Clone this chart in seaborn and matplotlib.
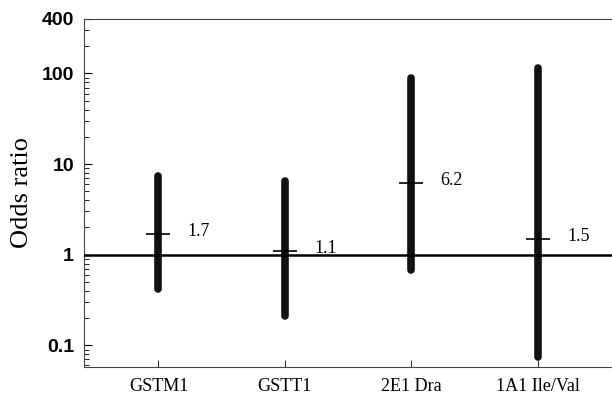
import numpy as np
import pandas as pd
import matplotlib
matplotlib.use("Agg")
import matplotlib.pyplot as plt
import matplotlib.ticker as mticker
import seaborn as sns

# dados
genes = ['GSTM1', 'GSTT1', '2E1 Dra', '1A1 Ile/Val']
odds = [1.7, 1.1, 6.2, 1.5]
ci_low = [0.42, 0.21, 0.68, 0.075]
ci_high = [7.3, 6.5, 90, 115]
labels_or = ['1.7', '1.1', '6.2', '1.5']

pos = np.arange(1, len(genes) + 1)

df_ci = pd.DataFrame({
    'gene': genes * 2,
    'x': list(pos) * 2,
    'or': ci_low + ci_high,
})
df_pt = pd.DataFrame({'gene': genes, 'x': pos, 'or': odds})

sns.set_style('white')
plt.rcParams['text.color'] = 'black'
plt.rcParams['xtick.color'] = 'black'
plt.rcParams['ytick.color'] = 'black'
plt.rcParams['axes.labelcolor'] = 'black'

fig = plt.figure(figsize=(6.12, 3.94), dpi=100)
ax = fig.add_axes([0.137, 0.069, 0.87, 0.883])

# intervalos de confianca (barras grossas)
sns.lineplot(data=df_ci, x='x', y='or', units='gene', estimator=None,
             color='#111111', lw=5.5, solid_capstyle='round', ax=ax, legend=False)

# estimativa pontual
sns.scatterplot(data=df_pt, x='x', y='or', marker='_', s=300, color='black',
                linewidth=1.2, ax=ax, legend=False, zorder=5)

ax.axhline(1, color='black', lw=1.8, zorder=4)

for x, y, t in zip(pos, odds, labels_or):
    ax.annotate(t, (x, y), xytext=(21, 2), textcoords='offset points',
                fontsize=13, family='Liberation Serif', va='center', ha='left')

ax.set_yscale('log')
ax.set_ylim(0.058, 400)
ax.set_xlim(0.41, 4.62)
ax.yaxis.set_major_locator(mticker.FixedLocator([0.1, 1, 10, 100, 400]))
ax.yaxis.set_major_formatter(mticker.FixedFormatter(['0.1', '1', '10', '100', '400']))
ax.yaxis.set_minor_locator(mticker.LogLocator(base=10, subs=np.arange(2, 10)))
ax.yaxis.set_minor_formatter(mticker.NullFormatter())

ax.set_xticks(pos)
ax.set_xticklabels(genes, family='Liberation Serif', fontsize=13)
for lab in ax.get_yticklabels():
    lab.set_family('Liberation Sans')
    lab.set_fontweight('bold')
    lab.set_fontsize(14)

ax.tick_params(axis='y', which='both', left=True)
ax.tick_params(axis='x', which='major', bottom=True)
ax.tick_params(axis='y', which='major', direction='in', length=6, width=0.8, pad=7)
ax.tick_params(axis='y', which='minor', direction='in', length=3.5, width=0.6)
ax.tick_params(axis='x', direction='in', length=5, width=0.6, pad=8)

ax.set_xlabel('')
ax.set_ylabel('Odds ratio', family='Liberation Serif', fontsize=19, labelpad=6)

for s in ['left', 'top', 'bottom']:
    ax.spines[s].set_color('#444444')
    ax.spines[s].set_linewidth(0.8)
ax.spines['right'].set_visible(False)

plt.savefig('out.png', dpi=100)
